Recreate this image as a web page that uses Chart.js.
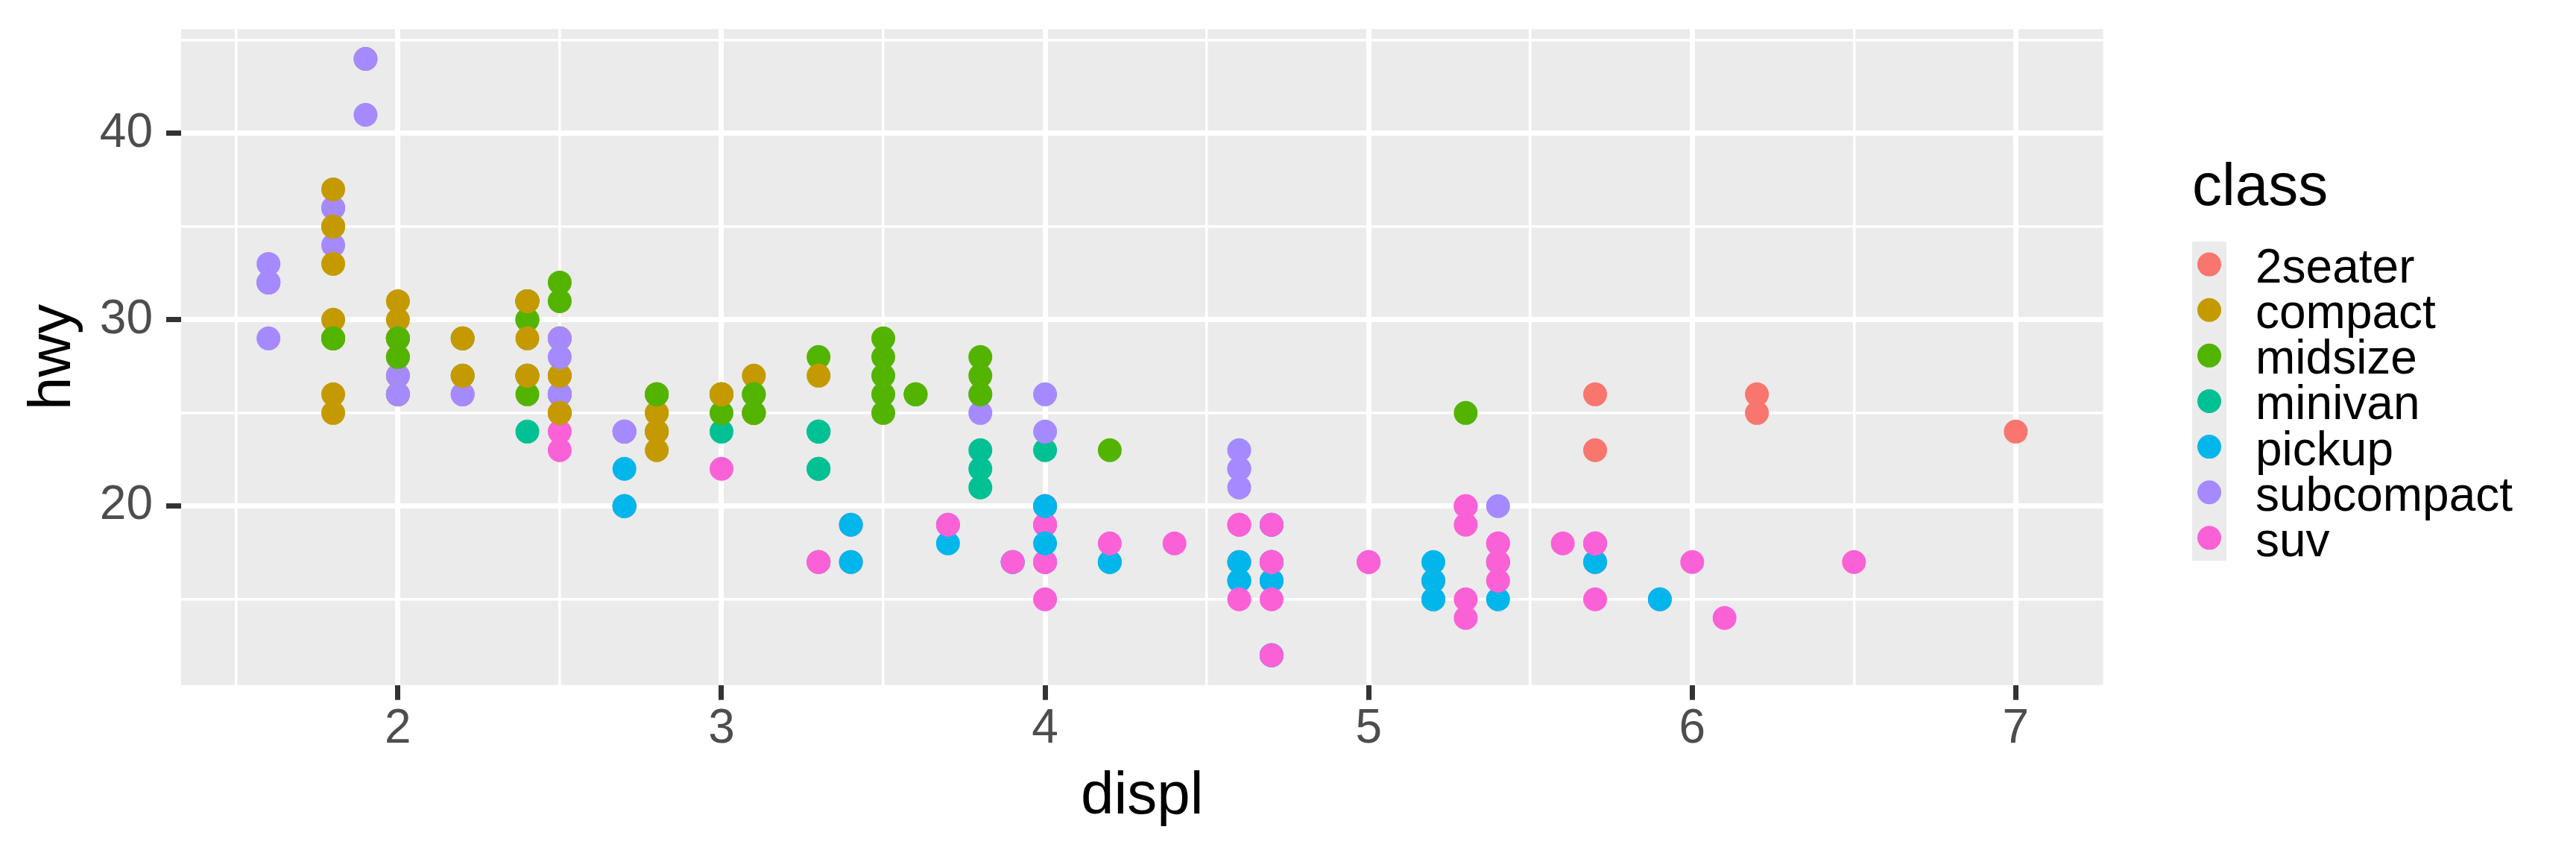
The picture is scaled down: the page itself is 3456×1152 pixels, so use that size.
<!DOCTYPE html>
<html>
<head>
<meta charset="utf-8">
<script src="https://cdn.jsdelivr.net/npm/chart.js@4.4.1/dist/chart.umd.min.js"></script>
<style>
  html, body { margin: 0; padding: 0; background: #ffffff; }
  #wrap { width: 3456px; height: 1152px; }
</style>
</head>
<body>
<div id="wrap"><canvas id="mpg" width="3456" height="1152" style="width:3456px;height:1152px"></canvas></div>
<script>
// mpg: engine displacement vs highway mileage, one entry per car, in row order
const displ = [
    1.8, 1.8, 2.0, 2.0, 2.8, 2.8, 3.1, 1.8, 1.8, 2.0, 2.0, 2.8, 2.8, 3.1, 3.1, 2.8, 3.1, 4.2,
    5.3, 5.3, 5.3, 5.7, 6.0, 5.7, 5.7, 6.2, 6.2, 7.0, 5.3, 5.3, 5.7, 6.5,
    2.4, 2.4, 3.1, 3.5, 3.6,
    2.4, 3.0, 3.3, 3.3, 3.3, 3.3, 3.3, 3.8, 3.8, 3.8, 4.0,
    3.7, 3.7, 3.9, 3.9, 4.7, 4.7, 4.7, 5.2, 5.2,
    3.9, 4.7, 4.7, 4.7, 5.2, 5.7, 5.9,
    4.7, 4.7, 4.7, 4.7, 4.7, 4.7, 5.2, 5.2, 5.7, 5.9,
    4.6, 5.4, 5.4,
    4.0, 4.0, 4.0, 4.0, 4.6, 5.0,
    4.2, 4.2, 4.6, 4.6, 4.6, 5.4, 5.4,
    3.8, 3.8, 4.0, 4.0, 4.6, 4.6, 4.6, 4.6, 5.4,
    1.6, 1.6, 1.6, 1.6, 1.6, 1.8, 1.8, 1.8, 2.0,
    2.4, 2.4, 2.4, 2.4, 2.5, 2.5, 3.3,
    2.0, 2.0, 2.0, 2.0, 2.7, 2.7, 2.7,
    3.0, 3.7, 4.0, 4.7, 4.7, 4.7, 5.7, 6.1,
    4.0, 4.2, 4.4, 4.6,
    5.4, 5.4, 5.4,
    4.0, 4.0, 4.6, 5.0,
    2.4, 2.4, 2.5, 2.5, 3.5, 3.5,
    3.0, 3.0, 3.5,
    3.3, 3.3, 4.0, 5.6,
    3.1, 3.8, 3.8, 3.8, 5.3,
    2.5, 2.5, 2.5, 2.5, 2.5, 2.5,
    2.2, 2.2, 2.5, 2.5, 2.5, 2.5, 2.5, 2.5,
    2.7, 2.7, 3.4, 3.4, 4.0, 4.7,
    2.2, 2.2, 2.4, 2.4, 3.0, 3.0, 3.5,
    2.2, 2.2, 2.4, 2.4, 3.0, 3.0, 3.3,
    1.8, 1.8, 1.8, 1.8, 1.8,
    4.7, 5.7,
    2.7, 2.7, 2.7, 3.4, 3.4, 4.0, 4.0,
    2.0, 2.0, 2.0, 2.0, 2.8,
    1.9, 2.0, 2.0, 2.0, 2.0, 2.5, 2.5, 2.8, 2.8,
    1.9, 1.9, 2.0, 2.0, 2.5, 2.5,
    1.8, 1.8, 2.0, 2.0, 2.8, 2.8, 3.6
];

const hwy = [
    29, 29, 31, 30, 26, 26, 27, 26, 25, 28, 27, 25, 25, 25, 25, 24, 25, 23,
    20, 15, 20, 17, 17, 26, 23, 26, 25, 24, 19, 14, 15, 17,
    27, 30, 26, 29, 26,
    24, 24, 22, 22, 24, 24, 17, 22, 21, 23, 23,
    19, 18, 17, 17, 19, 19, 12, 17, 15,
    17, 17, 12, 17, 16, 18, 15,
    16, 12, 17, 17, 16, 12, 15, 16, 17, 15,
    17, 17, 18,
    17, 19, 17, 19, 19, 17,
    17, 17, 16, 16, 17, 15, 17,
    26, 25, 26, 24, 21, 22, 23, 22, 20,
    33, 32, 32, 29, 32, 34, 36, 36, 29,
    26, 27, 30, 31, 26, 26, 28,
    26, 29, 28, 27, 24, 24, 24,
    22, 19, 20, 17, 12, 19, 18, 14,
    15, 18, 18, 15,
    17, 16, 18,
    17, 19, 19, 17,
    29, 27, 31, 32, 27, 26,
    26, 25, 25,
    17, 17, 20, 18,
    26, 26, 27, 28, 25,
    25, 24, 27, 25, 26, 23,
    26, 26, 26, 26, 25, 27, 25, 27,
    20, 20, 19, 17, 20, 17,
    29, 27, 31, 31, 26, 26, 28,
    27, 29, 31, 31, 26, 26, 27,
    30, 33, 35, 37, 35,
    15, 18,
    20, 20, 22, 17, 19, 18, 20,
    29, 26, 29, 29, 24,
    44, 29, 26, 29, 29, 29, 29, 23, 24,
    44, 41, 29, 26, 28, 29,
    29, 29, 28, 29, 26, 26, 26
];

const carClass = [
    "compact", "compact", "compact", "compact", "compact", "compact", "compact", "compact", "compact",
    "compact", "compact", "compact", "compact", "compact", "compact", "midsize", "midsize", "midsize",
    "suv", "suv", "suv", "suv", "suv", "2seater", "2seater", "2seater", "2seater", "2seater",
    "suv", "suv", "suv", "suv",
    "midsize", "midsize", "midsize", "midsize", "midsize",
    "minivan", "minivan", "minivan", "minivan", "minivan", "minivan", "minivan", "minivan", "minivan", "minivan", "minivan",
    "pickup", "pickup", "pickup", "pickup", "pickup", "pickup", "pickup", "pickup", "pickup",
    "suv", "suv", "suv", "suv", "suv", "suv", "suv",
    "pickup", "pickup", "pickup", "pickup", "pickup", "pickup", "pickup", "pickup", "pickup", "pickup",
    "suv", "suv", "suv",
    "suv", "suv", "suv", "suv", "suv", "suv",
    "pickup", "pickup", "pickup", "pickup", "pickup", "pickup", "pickup",
    "subcompact", "subcompact", "subcompact", "subcompact", "subcompact", "subcompact", "subcompact", "subcompact", "subcompact",
    "subcompact", "subcompact", "subcompact", "subcompact", "subcompact", "subcompact", "subcompact", "subcompact", "subcompact",
    "midsize", "midsize", "midsize", "midsize", "midsize", "midsize", "midsize",
    "subcompact", "subcompact", "subcompact", "subcompact", "subcompact", "subcompact", "subcompact",
    "suv", "suv", "suv", "suv", "suv", "suv", "suv", "suv",
    "suv", "suv", "suv", "suv",
    "suv", "suv", "suv",
    "suv", "suv", "suv", "suv",
    "compact", "compact", "midsize", "midsize", "midsize", "midsize",
    "midsize", "midsize", "midsize",
    "suv", "suv", "suv", "suv",
    "midsize", "midsize", "midsize", "midsize", "midsize",
    "suv", "suv", "suv", "suv", "suv", "suv",
    "subcompact", "subcompact", "subcompact", "subcompact", "compact", "compact", "compact", "compact",
    "suv", "suv", "suv", "suv", "suv", "suv",
    "midsize", "midsize", "midsize", "midsize", "midsize", "midsize", "midsize",
    "compact", "compact", "compact", "compact", "compact", "compact", "compact",
    "compact", "compact", "compact", "compact", "compact",
    "suv", "suv",
    "pickup", "pickup", "pickup", "pickup", "pickup", "pickup", "pickup",
    "compact", "compact", "compact", "compact", "compact",
    "compact", "compact", "compact", "compact", "compact", "compact", "compact", "compact", "compact",
    "subcompact", "subcompact", "subcompact", "subcompact", "subcompact", "subcompact",
    "midsize", "midsize", "midsize", "midsize", "midsize", "midsize", "midsize"
];

const classes = ["2seater", "compact", "midsize", "minivan", "pickup", "subcompact", "suv"];
const classColors = ["#F8766D", "#C49A00", "#53B400", "#00C094", "#00B6EB", "#A58AFF", "#FB61D7"];

// axis breaks (labelled) and the minor grid in between
const xBreaks = [2, 3, 4, 5, 6, 7];
const xMinor = [1.5, 2.5, 3.5, 4.5, 5.5, 6.5];
const yBreaks = [20, 30, 40];
const yMinor = [15, 25, 35, 45];

const FONT = "'Liberation Sans', Arial, sans-serif";

const panelBackground = {
    id: "panelBackground",
    beforeDraw(chart) {
        const { ctx, chartArea: a } = chart;
        ctx.save();
        ctx.fillStyle = "#FFFFFF";
        ctx.fillRect(0, 0, chart.width, chart.height);
        ctx.fillStyle = "#EBEBEB";
        ctx.fillRect(a.left, a.top, a.right - a.left, a.bottom - a.top);
        ctx.restore();
    }
};

// ggplot style legend on the right
const classLegend = {
    id: "classLegend",
    afterDraw(chart) {
        const ctx = chart.ctx;
        const left = 2941, keyTop = 324, keyW = 46, keyH = 61.13;
        ctx.save();
        ctx.textBaseline = "alphabetic";
        ctx.textAlign = "left";
        ctx.fillStyle = "#000000";
        ctx.font = "80px " + FONT;
        ctx.fillText("class", left, 275);
        ctx.fillStyle = "#EBEBEB";
        ctx.fillRect(left, keyTop, keyW, keyH * classes.length);
        ctx.font = "64px " + FONT;
        classes.forEach((c, i) => {
            const cy = keyTop + keyH * (i + 0.5);
            ctx.fillStyle = classColors[i];
            ctx.beginPath();
            ctx.arc(left + keyW / 2, cy, 16, 0, Math.PI * 2);
            ctx.fill();
            ctx.fillStyle = "#000000";
            ctx.fillText(c, 3026, cy + 24.5);
        });
        ctx.restore();
    }
};

function gridFor(breaks) {
    return {
        color: "#FFFFFF",
        lineWidth: c => breaks.includes(c.tick.value) ? 7 : 3.5,
        tickColor: c => breaks.includes(c.tick.value) ? "#333333" : "rgba(0,0,0,0)",
        tickWidth: c => breaks.includes(c.tick.value) ? 7 : 0,
        tickLength: 20,
        drawTicks: true
    };
}

const points = displ.map((d, i) => ({ x: d, y: hwy[i] }));
const pointColors = carClass.map(c => classColors[classes.indexOf(c)]);

new Chart(document.getElementById("mpg"), {
    type: "scatter",
    data: {
        datasets: [{
            label: "class",
            data: points,
            pointBackgroundColor: pointColors,
            pointBorderColor: pointColors,
            pointBorderWidth: 0,
            pointRadius: 16,
            pointHoverRadius: 16
        }]
    },
    options: {
        responsive: false,
        animation: false,
        events: [],
        layout: { padding: { left: 0, top: 39, right: 634.4, bottom: 0 } },
        plugins: {
            legend: { display: false },
            tooltip: { enabled: false }
        },
        scales: {
            x: {
                type: "linear",
                min: 1.33,
                max: 7.27,
                bounds: "data",
                afterBuildTicks: s => { s.ticks = xMinor.concat(xBreaks).sort((a, b) => a - b).map(v => ({ value: v })); },
                afterFit: s => {
                    s.height = 233.3;
                    s.paddingLeft = 0;
                    s.paddingRight = 0;
                },
                border: { display: false },
                grid: gridFor(xBreaks),
                ticks: {
                    autoSkip: false,
                    maxRotation: 0,
                    padding: 8,
                    color: "#4D4D4D",
                    font: { family: FONT, size: 64, lineHeight: 1 },
                    callback: v => xBreaks.includes(v) ? String(v) : ""
                },
                title: {
                    display: true,
                    text: "displ",
                    color: "#000000",
                    font: { family: FONT, size: 80, lineHeight: 1 },
                    padding: { top: 0, bottom: 43 }
                }
            },
            y: {
                type: "linear",
                min: 10.4,
                max: 45.6,
                bounds: "data",
                afterBuildTicks: s => { s.ticks = yMinor.concat(yBreaks).sort((a, b) => a - b).map(v => ({ value: v })); },
                afterFit: s => {
                    s.width = 243;
                    // keep the tick label overhang from pushing the panel down
                    s.paddingTop = 0;
                    s.paddingBottom = 0;
                },
                border: { display: false },
                grid: gridFor(yBreaks),
                ticks: {
                    autoSkip: false,
                    padding: 18,
                    color: "#4D4D4D",
                    font: { family: FONT, size: 64, lineHeight: 1 },
                    callback: v => yBreaks.includes(v) ? String(v) : ""
                },
                title: {
                    display: true,
                    text: "hwy",
                    color: "#000000",
                    font: { family: FONT, size: 80, lineHeight: 1 },
                    padding: { top: 32, bottom: 0 }
                }
            }
        }
    },
    plugins: [panelBackground, classLegend]
});
</script>
</body>
</html>
